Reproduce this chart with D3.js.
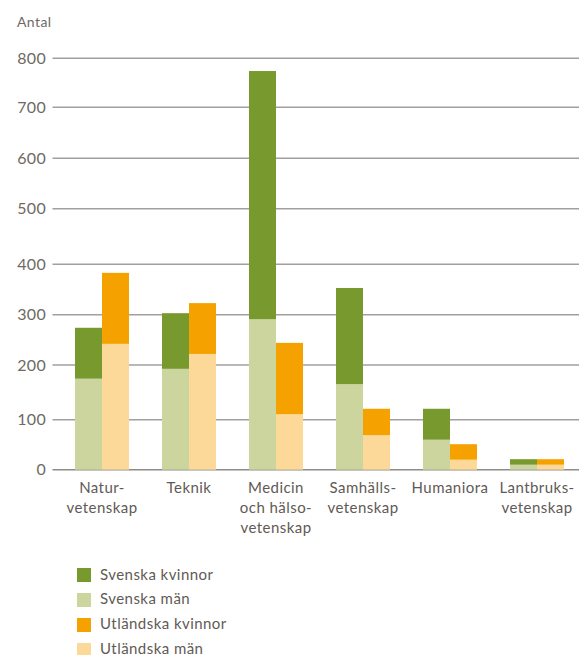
<!DOCTYPE html>
<html><head><meta charset="utf-8">
<script src="https://cdn.jsdelivr.net/npm/d3@7"></script>
<style>body{margin:0;background:#fff}svg{display:block}text{font-family:Lato,"Open Sans",sans-serif}</style>
</head><body><svg id="c" width="579" height="655"></svg>
<script>
const categories = [["Natur-","vetenskap"],["Teknik"],["Medicin","och hälso-","vetenskap"],["Samhälls-","vetenskap"],["Humaniora"],["Lantbruks-","vetenskap"]];
const svenskaMan = [175, 193, 291, 165, 60, 10];
const svenskaKvinnor = [99, 110, 483, 188, 60, 11];
const utlMan = [242, 222, 110, 69, 20, 10];
const utlKvinnor = [141, 101, 134, 51, 31, 11];
const yTicks = [0,100,200,300,400,500,600,700,800];
const legendItems = ["Svenska kvinnor","Svenska män","Utländska kvinnor","Utländska män"];
const colors = {sk:"#77992e", sm:"#ccd59e", uk:"#f5a200", um:"#fdd999"};

const svg = d3.select("#c");
const y = d3.scaleLinear().domain(yTicks).range([469.7,419.7,365,314.7,264.3,208.7,158.3,107.3,58.3]);
const x = d3.scaleBand().domain(d3.range(categories.length)).range([58.5,580.5]).paddingInner(33/87).paddingOuter(33/174);
const sub = d3.scaleBand().domain(["s","u"]).range([0,x.bandwidth()]);

// gridlines
svg.append("g").selectAll("line").data(yTicks).join("line")
  .attr("x1",52.5).attr("x2",579).attr("y1",d=>y(d)).attr("y2",d=>y(d))
  .attr("stroke",d=>d===0?"#8e8b86":"#a3a09c").attr("stroke-width",1.6);
svg.append("g").selectAll("text").data(yTicks).join("text")
  .attr("x",46).attr("y",d=>y(d)+5.5).attr("text-anchor","end")
  .attr("font-size",16).attr("letter-spacing",0.3).attr("fill","#6e6a64").text(d=>d);
svg.append("text").attr("x",17).attr("y",27).attr("font-size",14).attr("letter-spacing",0.4).attr("fill","#6e6a64").text("Antal");

const stacks = [
  {key:"s", parts:[[svenskaMan,colors.sm],[svenskaKvinnor,colors.sk]]},
  {key:"u", parts:[[utlMan,colors.um],[utlKvinnor,colors.uk]]}
];
const g = svg.append("g");
categories.forEach((c,i)=>{
  stacks.forEach(st=>{
    let base = 0;
    st.parts.forEach(([arr,col])=>{
      const v = arr[i];
      g.append("rect").attr("x",x(i)+sub(st.key)).attr("width",sub.bandwidth())
        .attr("y",y(base+v)).attr("height",y(base)-y(base+v)).attr("fill",col);
      base += v;
    });
  });
});

// x labels
categories.forEach((lines,i)=>{
  const t = svg.append("text").attr("text-anchor","middle").attr("font-size",15).attr("letter-spacing",0.45).attr("fill","#5f5a55");
  lines.forEach((l,j)=>t.append("tspan").attr("x",x(i)+x.bandwidth()/2).attr("y",493+j*20).text(l));
});

// legend
const lg = svg.append("g");
const legCols = [colors.sk,colors.sm,colors.uk,colors.um];
legendItems.forEach((name,i)=>{
  lg.append("rect").attr("x",77).attr("y",568+i*25).attr("width",14).attr("height",14).attr("fill",legCols[i]);
  lg.append("text").attr("x",100).attr("y",579.5+i*24.8).attr("font-size",15).attr("letter-spacing",0.45).attr("fill","#5f5a55").text(name);
});
</script></body></html>
